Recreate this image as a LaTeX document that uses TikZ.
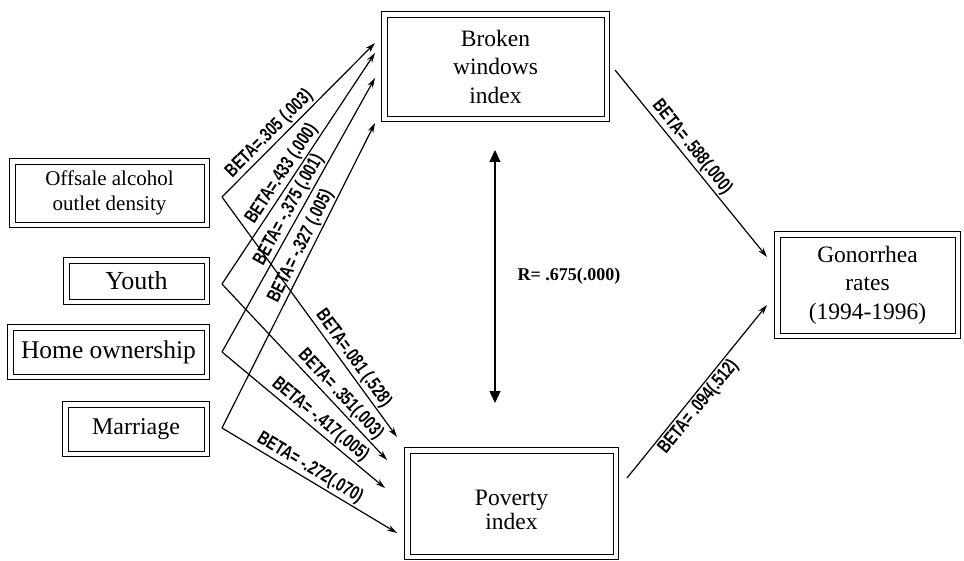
\documentclass[tikz,border=0pt]{standalone}
\usepackage{fontspec}
\setmainfont{Liberation Serif}
\newfontfamily\betafont[FakeStretch=0.75]{Liberation Sans}
\usetikzlibrary{arrows.meta}

\begin{document}
\begin{tikzpicture}[x=1pt, y=-1pt, line width=1.2pt,
  box/.style={draw, line width=0.8pt, inner sep=0pt, align=center},
  coef/.style={font=\betafont\bfseries\fontsize{19}{19}\selectfont, sloped, inner sep=1.5pt},
  path/.style={-{Stealth[length=10pt,width=6pt]}}]
\useasboundingbox (0,0) rectangle (964,561);
% predictors
\node[box, minimum width=189pt, minimum height=58pt, font=\fontsize{21}{25}\selectfont] (O) at (109.5,193) {Offsale alcohol\\outlet density};
\node[box, minimum width=135pt, minimum height=36pt, font=\fontsize{26}{28}\selectfont] (Y) at (136.5,281) {Youth};
\node[box, minimum width=191pt, minimum height=44pt, font=\fontsize{25.5}{28}\selectfont] (H) at (108.5,352) {Home ownership};
\node[box, minimum width=136pt, minimum height=44pt, font=\fontsize{24}{28}\selectfont] (M) at (136,429) {Marriage};
% mediators and outcome
\node[box, minimum width=217pt, minimum height=99pt, font=\fontsize{23.5}{28.5}\selectfont] (B) at (495.5,66.5) {Broken\\windows\\index};
\node[box, minimum width=203pt, minimum height=101pt, font=\fontsize{23.5}{26}\selectfont] (P) at (511.5,503.5)
  {\raisebox{-9pt}[\height][\depth]{\begin{tabular}{@{}c@{}}Poverty\\[-2pt]index\end{tabular}}};
\node[box, minimum width=175pt, minimum height=96pt, font=\fontsize{23.5}{28.5}\selectfont] (G) at (867.5,285) {Gonorrhea\\rates\\(1994-1996)};
\foreach \n in {O,Y,H,M,B,P,G}
  \draw[line width=1.6pt] ([shift={(-5pt,5pt)}]\n.north west) rectangle ([shift={(5pt,-5pt)}]\n.south east);
% arrow starts and tips
\coordinate (O_0) at (222,197);
\coordinate (Y_0) at (222,284);
\coordinate (H_0) at (222,352);
\coordinate (M_0) at (222,428);
\coordinate (B_1) at (375,43);
\coordinate (B_2) at (375,53);
\coordinate (B_3) at (375,78);
\coordinate (B_4) at (375,123);
\coordinate (P_1) at (397,437);
\coordinate (P_2) at (387,460);
\coordinate (P_3) at (385,488);
\coordinate (P_4) at (397,533);
\coordinate (B_0) at (615,70);
\coordinate (P_0) at (627,478);
\coordinate (G_1) at (767,257);
\coordinate (G_2) at (767,305);
\coordinate (R_1) at (495,150);
\coordinate (R_2) at (495,403);
% paths to broken windows
\draw[path] (O_0) -- (B_1) node[coef, pos=0.36, above] {BETA=.305 (.003)};
\draw[path] (Y_0) -- (B_2) node[coef, pos=0.45, above] {BETA=.433 (.000)};
\draw[path] (H_0) -- (B_3) node[coef, pos=0.5, above] {BETA= -.375 (.001)};
\draw[path] (M_0) -- (B_4) node[coef, pos=0.58, above] {BETA= -.327 (.005)};
% paths to poverty
\draw[path] (O_0) -- (P_1) node[coef, pos=0.7, above] {BETA=.081 (.528)};
\draw[path] (Y_0) -- (P_2) node[coef, pos=0.67, above] {BETA= .351(.003)};
\draw[path] (H_0) -- (P_3) node[coef, pos=0.56, above] {BETA= -.417(.005)};
\draw[path] (M_0) -- (P_4) node[coef, pos=0.47, above] {BETA= -.272(.070)};
% paths to gonorrhea
\draw[path] (B_0) -- (G_1) node[coef, pos=0.45, above] {BETA= .588(.000)};
\draw[path] (P_0) -- (G_2) node[coef, pos=0.45, below] {BETA= .094(.512)};
% correlation
\draw[{Triangle[length=12pt,width=11pt]}-{Triangle[length=12pt,width=11pt]}] (R_1) -- (R_2);
\node[font=\bfseries\fontsize{18}{18}\selectfont] (R) at (569,276) {R= .675(.000)};
\end{tikzpicture}
\end{document}
